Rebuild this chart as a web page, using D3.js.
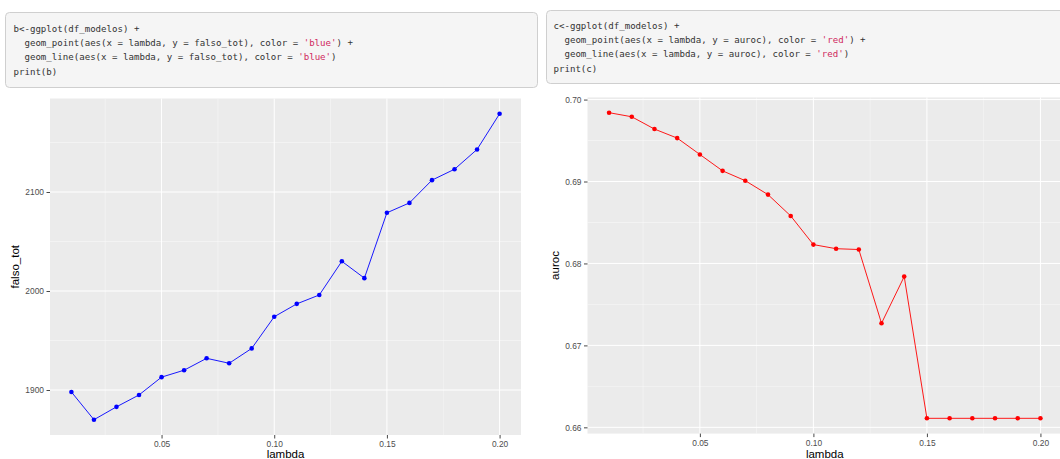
<!DOCTYPE html>
<html>
<head>
<meta charset="utf-8">
<script src="https://cdn.jsdelivr.net/npm/d3@7"></script>
<style>
  html, body { margin: 0; padding: 0; background: #fff; }
  svg { display: block; }
  .code { font-family: "DejaVu Sans Mono", "Liberation Mono", monospace; font-size: 9.1px; fill: #333; }
  .str { fill: #d0285e; }
  .tick text { font-family: "Liberation Sans", Arial, sans-serif; font-size: 8.4px; fill: #4d4d4d; }
  .axtitle { font-family: "Liberation Sans", Arial, sans-serif; font-size: 11.5px; fill: #000; }
</style>
</head>
<body>
<svg id="chart" width="1060" height="459"></svg>
<script>
// lambda grid of the fitted models
const lambda = [0.01, 0.02, 0.03, 0.04, 0.05, 0.06, 0.07, 0.08, 0.09, 0.10,
                0.11, 0.12, 0.13, 0.14, 0.15, 0.16, 0.17, 0.18, 0.19, 0.20];
// total false classifications per model
const falsoTot = [1898, 1870, 1883, 1895, 1913, 1920, 1932, 1927, 1942, 1974,
                  1987, 1996, 2030, 2013, 2079, 2089, 2112, 2123, 2143, 2179];
// area under the ROC curve per model
const auroc = [0.6984, 0.6979, 0.6964, 0.6953, 0.6933, 0.6913, 0.6901, 0.6884, 0.6858, 0.6823,
               0.6818, 0.6817, 0.6727, 0.6784, 0.6611, 0.6611, 0.6611, 0.6611, 0.6611, 0.6611];

const xTicks = [0.05, 0.10, 0.15, 0.20];
const xMinor = [0.025, 0.075, 0.125, 0.175];
const falsoTicks = [1900, 2000, 2100];
const falsoMinor = [1950, 2050, 2150];
const aurocTicks = [0.66, 0.67, 0.68, 0.69, 0.70];
const aurocMinor = [0.665, 0.675, 0.685, 0.695];

// R chunks shown above each plot
const codeB = [
  [["b<-ggplot(df_modelos) +", 0]],
  [["  geom_point(aes(x = lambda, y = falso_tot), color = ", 0], ["'blue'", 1], [") +", 0]],
  [["  geom_line(aes(x = lambda, y = falso_tot), color = ", 0], ["'blue'", 1], [")", 0]],
  [["print(b)", 0]]
];
const codeC = [
  [["c<-ggplot(df_modelos) +", 0]],
  [["  geom_point(aes(x = lambda, y = auroc), color = ", 0], ["'red'", 1], [") +", 0]],
  [["  geom_line(aes(x = lambda, y = auroc), color = ", 0], ["'red'", 1], [")", 0]],
  [["print(c)", 0]]
];

const svg = d3.select("#chart");

function codeBlock(lines, box, textX, firstY, lineH) {
  svg.append("rect")
    .attr("x", box.x).attr("y", box.y).attr("width", box.w).attr("height", box.h)
    .attr("rx", 4).attr("fill", "#f5f5f5").attr("stroke", "#cfcfcf").attr("stroke-width", 1);
  lines.forEach((parts, i) => {
    const t = svg.append("text").attr("class", "code")
      .attr("x", textX).attr("y", firstY + i * lineH)
      .attr("xml:space", "preserve").style("white-space", "pre");
    parts.forEach(([s, isStr]) => {
      t.append("tspan").attr("class", isStr ? "str" : null).text(s);
    });
  });
}

codeBlock(codeB, {x: 5.5, y: 12.5, w: 532, h: 75}, 13.5, 31.5, 14.4);
codeBlock(codeC, {x: 546.5, y: 10.5, w: 520, h: 73}, 553.5, 28.5, 14.4);

// ggplot-style 5% expansion of a continuous range
function expand(ext) {
  const pad = (ext[1] - ext[0]) * 0.05;
  return [ext[0] - pad, ext[1] + pad];
}

function panel(opts) {
  const {x0, x1, y0, y1, values, color, yTicks, yMinor, yFmt, title, titleX} = opts;
  const x = d3.scaleLinear().domain(expand(d3.extent(lambda))).range([x0, x1]);
  const y = d3.scaleLinear().domain(expand(d3.extent(values))).range([y1, y0]);
  const g = svg.append("g");

  g.append("rect").attr("x", x0).attr("y", y0).attr("width", x1 - x0).attr("height", y1 - y0)
    .attr("fill", "#ebebeb");

  // minor grid
  g.selectAll(".mx").data(xMinor).join("line")
    .attr("x1", d => x(d)).attr("x2", d => x(d)).attr("y1", y0).attr("y2", y1)
    .attr("stroke", "#fff").attr("stroke-width", 0.5).attr("opacity", 0.8);
  g.selectAll(".my").data(yMinor).join("line")
    .attr("x1", x0).attr("x2", x1).attr("y1", d => y(d)).attr("y2", d => y(d))
    .attr("stroke", "#fff").attr("stroke-width", 0.5).attr("opacity", 0.8);
  // major grid
  g.selectAll(".Mx").data(xTicks).join("line")
    .attr("x1", d => x(d)).attr("x2", d => x(d)).attr("y1", y0).attr("y2", y1)
    .attr("stroke", "#fff").attr("stroke-width", 1);
  g.selectAll(".My").data(yTicks).join("line")
    .attr("x1", x0).attr("x2", x1).attr("y1", d => y(d)).attr("y2", d => y(d))
    .attr("stroke", "#fff").attr("stroke-width", 1);

  // axes
  const xa = g.append("g").attr("transform", `translate(0,${y1})`)
    .call(d3.axisBottom(x).tickValues(xTicks).tickFormat(d3.format(".2f")).tickSize(3.5).tickPadding(3));
  const ya = g.append("g").attr("transform", `translate(${x0},0)`)
    .call(d3.axisLeft(y).tickValues(yTicks).tickFormat(yFmt).tickSize(3.5).tickPadding(2.5));
  [xa, ya].forEach(a => {
    a.select(".domain").remove();
    a.selectAll(".tick line").attr("stroke", "#333").attr("stroke-width", 0.9);
  });

  // series
  const pts = lambda.map((l, i) => [l, values[i]]);
  g.append("path").datum(pts)
    .attr("fill", "none").attr("stroke", color).attr("stroke-width", 0.9)
    .attr("d", d3.line().x(d => x(d[0])).y(d => y(d[1])));
  g.selectAll("circle").data(pts).join("circle")
    .attr("cx", d => x(d[0])).attr("cy", d => y(d[1])).attr("r", 2.3).attr("fill", color);

  // axis titles
  g.append("text").attr("class", "axtitle").attr("text-anchor", "middle")
    .attr("x", (x0 + x1) / 2).attr("y", 457.5).text("lambda");
  g.append("text").attr("class", "axtitle").attr("text-anchor", "middle")
    .attr("transform", `translate(${titleX},${(y0 + y1) / 2}) rotate(-90)`).text(title);
}

panel({x0: 50, x1: 521, y0: 98.5, y1: 435, values: falsoTot, color: "#0000ff",
       yTicks: falsoTicks, yMinor: falsoMinor, yFmt: d3.format("d"),
       title: "falso_tot", titleX: 19});
panel({x0: 587.5, x1: 1062, y0: 97.4, y1: 433.6, values: auroc, color: "#ff0000",
       yTicks: aurocTicks, yMinor: aurocMinor, yFmt: d3.format(".2f"),
       title: "auroc", titleX: 559});
</script>
</body>
</html>
